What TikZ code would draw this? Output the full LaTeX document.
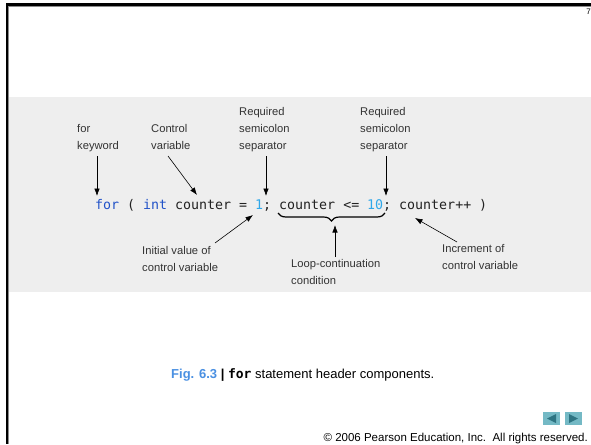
\documentclass[tikz,border=0pt]{standalone}
\usepackage{fontspec}
\setmainfont{Liberation Sans}
\newfontfamily\codefont{DejaVu Sans Mono}
\usetikzlibrary{arrows.meta,decorations.pathreplacing}

\definecolor{bandgray}{HTML}{EEEEEE}
\definecolor{labelgray}{HTML}{333333}
\definecolor{codeink}{HTML}{222222}
\definecolor{kwblue}{HTML}{2152C8}
\definecolor{litblue}{HTML}{2FA8EA}
\definecolor{figblue}{HTML}{4A90E2}
\definecolor{navteal}{HTML}{74B9C5}
\definecolor{navdark}{HTML}{2E7482}

\tikzset{
  note/.style={font=\fontsize{11.2}{17}\selectfont, text=labelgray, align=left,
               inner sep=0pt, anchor=north west},
  tok/.style={font=\codefont\fontsize{13.3}{16}\selectfont, text=codeink,
              inner sep=0pt, anchor=base west},
  pointer/.style={-{Latex[length=7.5pt,width=5.5pt]}, line width=0.6pt, draw=black},
  navbtn/.style={fill=navteal, draw=none},
}

\begin{document}
\begin{tikzpicture}[x=1pt,y=-1pt]
\useasboundingbox (0,0) rectangle (591,444);
\fill[white] (0,0) rectangle (591,444);

% slide frame
\fill[black!45] (8,6) rectangle (591,7);
\fill[black!45] (8,6) rectangle (9,444);
\fill[black] (6,3.5) rectangle (591,6);
\fill[black] (6,3.5) rectangle (8,444);
\node[font=\fontsize{8}{9}\selectfont, inner sep=0pt, anchor=north east] (pageno) at (591,9) {7};

% grey figure band
\fill[bandgray] (9,97) rectangle (591,292);

% code line, one node per token (column pitch 8pt)
\node[tok, text=kwblue]  (kwfor)  at (95,209) {for};
\node[tok]               (lpar)   at (127,209) {(};
\node[tok, text=kwblue]  (kwint)  at (143,209) {int};
\node[tok]               (cvar)   at (175,209) {counter};
\node[tok]               (assign) at (239,209) {=};
\node[tok, text=litblue] (initv)  at (255,209) {1};
\node[tok]               (semi1)  at (263,209) {;};
\node[tok]               (cond)   at (279,209) {counter <=};
\node[tok, text=litblue] (limit)  at (367,209) {10};
\node[tok]               (semi2)  at (383,209) {;};
\node[tok]               (incr)   at (399,209) {counter++};
\node[tok]               (rpar)   at (479,209) {)};

% labels above the code
\node[note] (forlab)  at (77,124)  {for\\keyword};
\node[note] (ctrllab) at (151,124) {Control\\variable};
\node[note] (req1lab) at (239,107) {Required\\semicolon\\separator};
\node[note] (req2lab) at (360,107) {Required\\semicolon\\separator};

% labels below the code
\node[note] (initlab) at (142,246) {Initial value of\\control variable};
\node[note] (looplab) at (291,259) {Loop-continuation\\condition};
\node[note] (inclab)  at (442,244) {Increment of\\control variable};

% end points of the connectors
\coordinate (forTop)   at (97,156);
\coordinate (forTip)   at (97,196);
\coordinate (ctrlTop)  at (168,156);
\coordinate (ctrlTip)  at (197,195);
\coordinate (req1Top)  at (266,156);
\coordinate (req1Tip)  at (266,196);
\coordinate (req2Top)  at (386,156);
\coordinate (req2Tip)  at (386,196);
\coordinate (initTail) at (215,243);
\coordinate (initTip)  at (253,215);
\coordinate (incTail)  at (457,242);
\coordinate (incTip)   at (415,218);
\coordinate (loopTail) at (335,257);
\coordinate (loopTip)  at (335,225);
\coordinate (braceL)   at (278,213);
\coordinate (braceR)   at (385,213);

\draw[pointer] (forTop)   -- (forTip);
\draw[pointer] (ctrlTop)  -- (ctrlTip);
\draw[pointer] (req1Top)  -- (req1Tip);
\draw[pointer] (req2Top)  -- (req2Tip);
\draw[pointer] (initTail) -- (initTip);
\draw[pointer] (incTail)  -- (incTip);

% brace under the loop-continuation condition
\draw[line width=1.2pt, decorate, decoration={brace, mirror, amplitude=8pt}]
  (braceL) -- (braceR);
\draw[pointer] (loopTail) -- (loopTip);

% caption
\node[inner sep=0pt, anchor=base west, font=\fontsize{13}{15}\selectfont] (caption) at (171,378)
  {\textcolor{figblue}{\bfseries Fig. 6.3} \textbf{|} {\codefont\bfseries for} statement header components.};

% navigation buttons
\fill[navbtn] (543,412) rectangle (560,425);
\fill[navbtn] (565,412) rectangle (582,425);
\fill[navdark] (547,418.5) -- (556,414) -- (556,423) -- cycle;
\fill[navdark] (578,418.5) -- (569,414) -- (569,423) -- cycle;

% copyright line
\node[inner sep=0pt, anchor=base east, font=\fontsize{11.5}{13}\selectfont] (copyright) at (588,441)
  {\textcopyright{} 2006 Pearson Education, Inc.\ \ All rights reserved.};
\end{tikzpicture}
\end{document}
